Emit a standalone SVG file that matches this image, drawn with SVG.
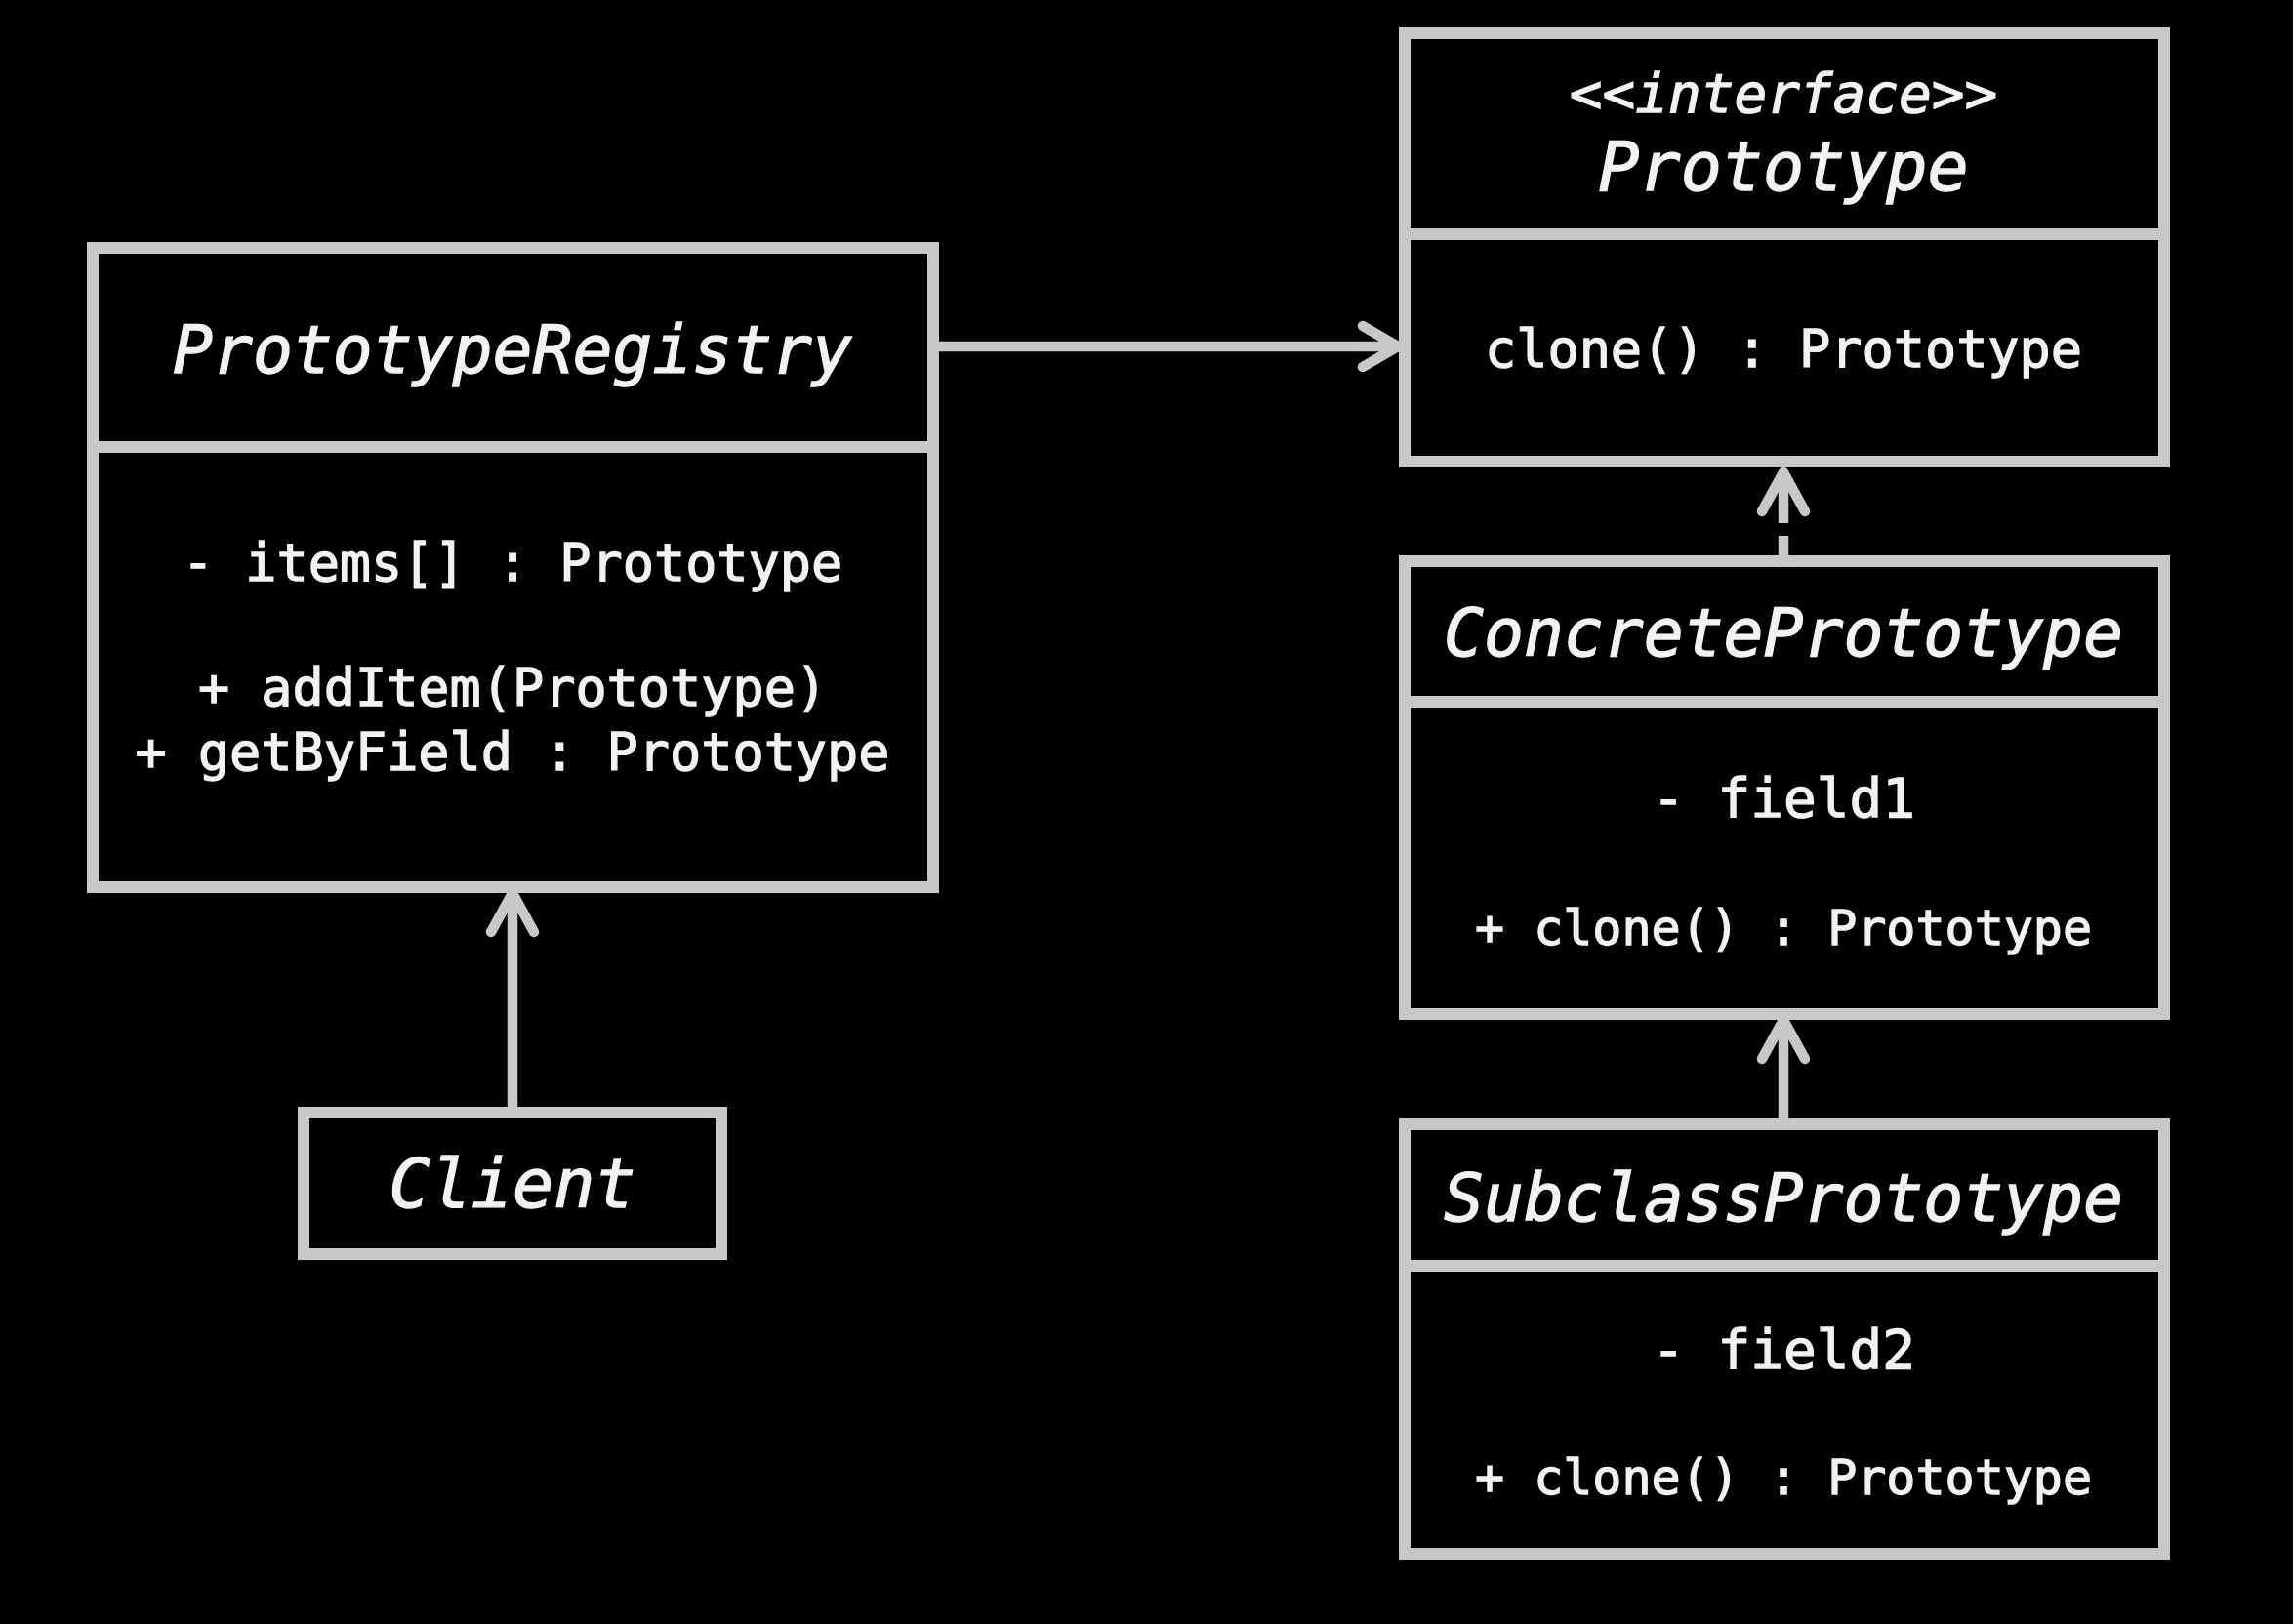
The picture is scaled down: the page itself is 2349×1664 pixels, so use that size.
<svg xmlns="http://www.w3.org/2000/svg" width="2349" height="1664" viewBox="0 0 2349 1664">
  <style>
    .box { fill: #000; stroke: #c8c8c8; stroke-width: 12; }
    .sep { stroke: #c8c8c8; stroke-width: 12; }
    .t { font-family: "DejaVu Sans Mono", "Liberation Mono", monospace; fill: #f2f2f2; stroke: #f2f2f2; stroke-width: 1.3; text-anchor: middle; }
    .it { font-style: italic; }
    .edge { fill: none; stroke: #c8c8c8; stroke-width: 10.5; }
    .dash { stroke-dasharray: 21 13 200; }
    .head { fill: none; stroke: #c8c8c8; stroke-width: 10.5; stroke-linecap: round; stroke-linejoin: round; }
  </style>

  <rect width="2349" height="1664" fill="#000"/>

  <!-- connectors -->
  <g id="connectors">
    <!-- registry uses the prototype interface -->
    <path class="edge" d="M956,355 H1430"/>
    <path class="head" d="M1396,334 L1432,355 L1396,376"/>
    <!-- concrete prototype implements the interface -->
    <path class="edge dash" d="M1827,570 V486"/>
    <path class="head" d="M1805,524 L1827,484 L1849,524"/>
    <!-- subclass extends concrete prototype -->
    <path class="edge" d="M1827,1147 V1048"/>
    <path class="head" d="M1805,1085 L1827,1045 L1849,1085"/>
    <!-- client uses the registry -->
    <path class="edge" d="M525,1136 V918"/>
    <path class="head" d="M503,955 L525,915 L547,955"/>
  </g>

  <!-- PrototypeRegistry -->
  <g id="prototype-registry">
    <rect class="box" x="95" y="254" width="861" height="655"/>
    <line class="sep" x1="95" y1="458" x2="956" y2="458"/>
    <text class="t it" x="525" y="382" font-size="68">PrototypeRegistry</text>
    <text class="t" x="525" y="595" font-size="53.5">- items[] : Prototype</text>
    <text class="t" x="525" y="723" font-size="53.5">+ addItem(Prototype)</text>
    <text class="t" x="525" y="789" font-size="53.5">+ getByField : Prototype</text>
  </g>

  <!-- Prototype interface -->
  <g id="prototype">
    <rect class="box" x="1439" y="34" width="778" height="439"/>
    <line class="sep" x1="1439" y1="240" x2="2217" y2="240"/>
    <text class="t it" x="1827" y="115" font-size="56">&lt;&lt;interface&gt;&gt;</text>
    <text class="t it" x="1827" y="195" font-size="70">Prototype</text>
    <text class="t" x="1827" y="376" font-size="53.5">clone() : Prototype</text>
  </g>

  <!-- ConcretePrototype -->
  <g id="concrete-prototype">
    <rect class="box" x="1439" y="575" width="778" height="464"/>
    <line class="sep" x1="1439" y1="719" x2="2217" y2="719"/>
    <text class="t it" x="1827" y="672" font-size="68">ConcretePrototype</text>
    <text class="t" x="1827" y="837" font-size="56">- field1</text>
    <text class="t" x="1827" y="968" font-size="50">+ clone() : Prototype</text>
  </g>

  <!-- SubclassPrototype -->
  <g id="subclass-prototype">
    <rect class="box" x="1439" y="1152" width="778" height="440"/>
    <line class="sep" x1="1439" y1="1297" x2="2217" y2="1297"/>
    <text class="t it" x="1827" y="1251" font-size="68">SubclassPrototype</text>
    <text class="t" x="1827" y="1402" font-size="56">- field2</text>
    <text class="t" x="1827" y="1531" font-size="50">+ clone() : Prototype</text>
  </g>

  <!-- Client -->
  <g id="client">
    <rect class="box" x="311" y="1140" width="428" height="145"/>
    <text class="t it" x="525" y="1237" font-size="70">Client</text>
  </g>
</svg>
